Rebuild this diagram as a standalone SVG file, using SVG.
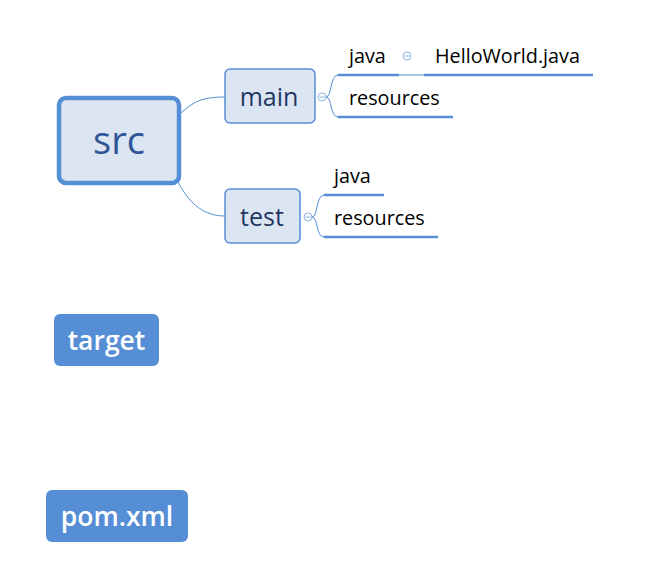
<svg xmlns="http://www.w3.org/2000/svg" width="656" height="564" viewBox="0 0 656 564">
<style>
.box{fill:#DCE6F2;stroke:#558ED5}
.solid{fill:#558ED5}
.con{fill:none;stroke:#558ED5;stroke-width:1}
.ul{stroke:#558ED5;stroke-width:2.5;fill:none}
.col{fill:#fff;stroke:#8DB3E2;stroke-width:1}
.t{font-family:"Open Sans","Noto Sans",sans-serif}
.leaf{font-size:19.8px;fill:#000}
.mid{font-size:25px;fill:#1F3864;text-anchor:middle}
.wt{font-size:26.5px;fill:#fff;font-weight:600;text-anchor:middle}
</style>
<rect width="656" height="564" fill="#fff"/>
<g id="connectors">
<path class="con" d="M181,113 C195,100 205,97 225,97"/>
<path class="con" d="M178,182 C190,205 205,216 225,216"/>
<path class="con" d="M326,97 C332,97 330,75 338,75"/>
<path class="con" d="M326,97 C332,97 330,117 338,117"/>
<path class="con" d="M399,75 L424,75"/>
<path class="con" d="M312,217 C318,217 316,195 324,195"/>
<path class="con" d="M312,217 C318,217 316,237 324,237"/>
</g>
<g id="src">
<rect class="box" x="59" y="98" width="120" height="85" rx="7" stroke-width="4.5"/>
<text class="t" x="119" y="154" font-size="38" fill="#2F5597" text-anchor="middle">src</text>
</g>
<g id="main">
<rect class="box" x="225" y="69" width="90" height="54" rx="5" stroke-width="1.5"/>
<text class="t mid" x="269" y="106">main</text>
<circle class="col" cx="322" cy="97" r="4"/>
<line x1="319.5" y1="97" x2="324.5" y2="97" stroke="#8DB3E2"/>
</g>
<g id="test">
<rect class="box" x="225" y="189" width="75" height="54" rx="5" stroke-width="1.5"/>
<text class="t mid" x="262" y="226">test</text>
<circle class="col" cx="308" cy="217" r="4"/>
<line x1="305.5" y1="217" x2="310.5" y2="217" stroke="#8DB3E2"/>
</g>
<g id="main-java">
<text class="t leaf" x="349" y="63">java</text>
<line class="ul" x1="338" y1="75" x2="399" y2="75"/>
<circle class="col" cx="407" cy="56" r="4"/>
<line x1="404.5" y1="56" x2="409.5" y2="56" stroke="#8DB3E2"/>
</g>
<g id="helloworld">
<text class="t leaf" x="435" y="63">HelloWorld.java</text>
<line class="ul" x1="424" y1="75" x2="593" y2="75"/>
</g>
<g id="main-resources">
<text class="t leaf" x="349" y="105">resources</text>
<line class="ul" x1="338" y1="117" x2="453" y2="117"/>
</g>
<g id="test-java">
<text class="t leaf" x="334" y="183">java</text>
<line class="ul" x1="324" y1="195" x2="384" y2="195"/>
</g>
<g id="test-resources">
<text class="t leaf" x="334" y="225">resources</text>
<line class="ul" x1="324" y1="237" x2="438" y2="237"/>
</g>
<g id="target">
<rect class="solid" x="54" y="314" width="105" height="52" rx="6"/>
<text class="t wt" x="106.5" y="350">target</text>
</g>
<g id="pom">
<rect class="solid" x="46" y="490" width="142" height="52" rx="6"/>
<text class="t wt" x="117" y="526">pom.xml</text>
</g>
</svg>
